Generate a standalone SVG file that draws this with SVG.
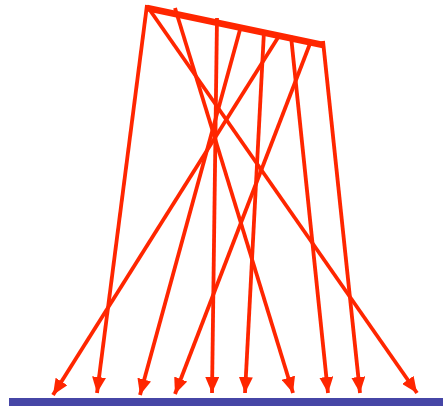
<svg xmlns="http://www.w3.org/2000/svg" width="443" height="406" viewBox="0 0 443 406">
<style>
.ray{stroke:#ff2600;stroke-width:3.8;fill:none;marker-end:url(#ah)}
.bar{stroke:#ff2600;stroke-width:6.5;stroke-linecap:butt}
</style>
<defs>
<marker id="ah" markerUnits="userSpaceOnUse" markerWidth="17" markerHeight="14" refX="16" refY="7" orient="auto">
<path d="M0,0 L16,7 L0,14 z" fill="#ff2600"/>
</marker>
</defs>
<rect id="ground" x="9" y="398" width="434" height="8" fill="#4646a6"/>
<g id="source">
<line class="bar" x1="147" y1="8" x2="323" y2="45"/>
</g>
<g id="rays">
<line class="ray" x1="147" y1="5" x2="97" y2="393"/>
<line class="ray" x1="147" y1="6" x2="417" y2="393"/>
<line class="ray" x1="175" y1="8" x2="293" y2="393"/>
<line class="ray" x1="217" y1="18" x2="212" y2="393"/>
<line class="ray" x1="241" y1="26" x2="140" y2="395"/>
<line class="ray" x1="264" y1="31" x2="245" y2="393"/>
<line class="ray" x1="279" y1="36" x2="53" y2="395"/>
<line class="ray" x1="291" y1="36" x2="328" y2="393"/>
<line class="ray" x1="311" y1="41" x2="175" y2="394"/>
<line class="ray" x1="323" y1="41" x2="360" y2="393"/>
</g>
</svg>
